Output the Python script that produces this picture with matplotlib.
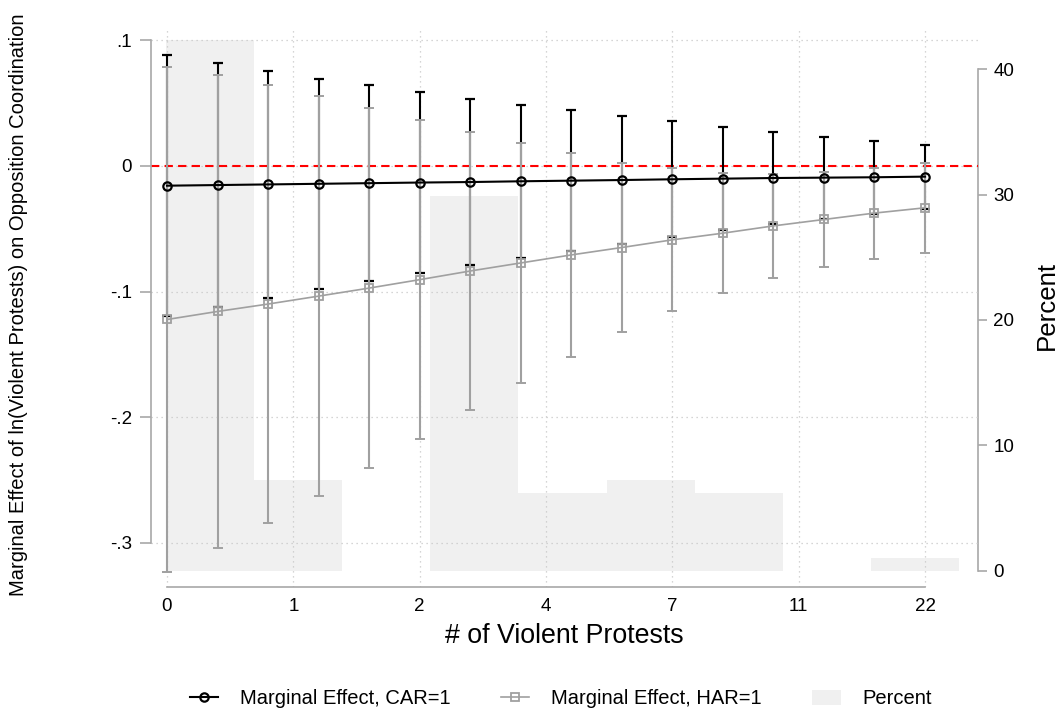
import matplotlib
matplotlib.use("Agg")
import matplotlib.pyplot as plt
from matplotlib.lines import Line2D
from matplotlib.patches import Patch

plt.rcParams["font.family"] = ["Liberation Sans", "DejaVu Sans"]

# x = ln(# violent protests + 1) grid used for the margins
x_pts = [0.0, 0.2, 0.4, 0.6, 0.8, 1.0, 1.2, 1.4, 1.6, 1.8, 2.0, 2.2, 2.4, 2.6, 2.8, 3.0]

car_est = [-0.0157, -0.0152, -0.0147, -0.0142, -0.0137, -0.0132, -0.0128, -0.0122,
           -0.0117, -0.0112, -0.0106, -0.0101, -0.0096, -0.0093, -0.0090, -0.0085]
car_hi = [0.0881, 0.0817, 0.0756, 0.0695, 0.0641, 0.0588, 0.0535, 0.0487,
          0.0442, 0.0394, 0.0354, 0.0311, 0.0271, 0.0234, 0.0202, 0.0170]
car_lo = [-0.1195, -0.1121, -0.1050, -0.0979, -0.0915, -0.0852, -0.0791, -0.0731,
          -0.0676, -0.0618, -0.0566, -0.0513, -0.0463, -0.0420, -0.0382, -0.0340]

har_est = [-0.1222, -0.1158, -0.1099, -0.1036, -0.0972, -0.0905, -0.0836, -0.0772,
           -0.0708, -0.0649, -0.0588, -0.0535, -0.0477, -0.0426, -0.0375, -0.0333]
har_hi = [0.0790, 0.0727, 0.0644, 0.0556, 0.0461, 0.0367, 0.0271, 0.0183,
          0.0101, 0.0027, -0.0018, -0.0058, -0.0062, -0.0048, -0.0013, 0.0026]
har_lo = [-0.3234, -0.3043, -0.2842, -0.2628, -0.2405, -0.2177, -0.1943, -0.1727,
          -0.1517, -0.1325, -0.1158, -0.1012, -0.0892, -0.0804, -0.0737, -0.0692]

# histogram of ln(violent protests + 1), in percent
hist_left = [-0.005, 0.344, 0.693, 1.042, 1.391, 1.740, 2.089, 2.438, 2.787]
hist_width = 0.349
hist_pct = [42.3, 7.2, 0.0, 29.9, 6.2, 7.2, 6.2, 0.0, 1.0]

x_ticks = [0, 0.5, 1, 1.5, 2, 2.5, 3]
x_ticklabels = ["0", "1", "2", "4", "7", "11", "22"]
y_ticks = [0.1, 0, -0.1, -0.2, -0.3]
y_ticklabels = [".1", "0", "-.1", "-.2", "-.3"]
pct_ticks = [0, 10, 20, 30, 40]

GRAY = "#a0a0a0"
AXGRAY = "#a8a8a8"
BARGRAY = "#f0f0f0"

fig = plt.figure(figsize=(10.64, 7.11), dpi=100)
ax = fig.add_axes([151 / 1064, (711 - 587) / 711, (978 - 151) / 1064, (587 - 28) / 711])
axp = ax.twinx()
ax.set_zorder(axp.get_zorder() + 1)
ax.patch.set_visible(False)

# percent bars (background)
axp.bar(hist_left, hist_pct, width=hist_width, align="edge", color=BARGRAY, lw=0)
axp.set_ylim(-1.30, 43.29)
axp.set_yticks(pct_ticks)
axp.tick_params(axis="y", length=6.5, width=1.2, color=AXGRAY, labelsize=13.5, pad=4.5)
for s in ["top", "left", "bottom"]:
    axp.spines[s].set_visible(False)
axp.spines["right"].set_bounds(0, 40)
axp.spines["right"].set_color(AXGRAY)
axp.spines["right"].set_linewidth(1.2)

# grid + zero line
ax.set_xlim(-0.0633, 3.2097)
ax.set_ylim(-0.3351, 0.1098)
ax.set_xticks(x_ticks)
ax.set_xticklabels(x_ticklabels)
ax.set_yticks(y_ticks)
ax.set_yticklabels(y_ticklabels)
ax.grid(True, ls=(0, (1, 3)), color="#c8c8c8", lw=0.9)
ax.axhline(0, color="red", lw=1.5, dashes=(4, 2.5), zorder=2.5)

# CIs
ax.errorbar(x_pts, car_est,
            yerr=[[e - l for e, l in zip(car_est, car_lo)], [h - e for e, h in zip(car_est, car_hi)]],
            fmt="none", ecolor="black", elinewidth=1.5, capsize=3.3, capthick=1.6, zorder=3)
ax.errorbar(x_pts, har_est,
            yerr=[[e - l for e, l in zip(har_est, har_lo)], [h - e for e, h in zip(har_est, har_hi)]],
            fmt="none", ecolor=GRAY, elinewidth=1.5, capsize=3.6, capthick=1.4, zorder=4)
# point estimates
ax.plot(x_pts, car_est, color="black", lw=1.5, marker="o", ms=6, mfc="none", mec="black", mew=1.6, zorder=5)
ax.plot(x_pts, har_est, color=GRAY, lw=1.2, marker="s", ms=6, mfc="none", mec=GRAY, mew=1.3, zorder=5)

ax.spines["top"].set_visible(False)
ax.spines["right"].set_visible(False)
ax.spines["left"].set_bounds(-0.3, 0.1)
ax.spines["bottom"].set_bounds(0, 3)
for s in ["left", "bottom"]:
    ax.spines[s].set_color(AXGRAY)
    ax.spines[s].set_linewidth(1.2)
ax.tick_params(axis="y", length=7.9, width=1.2, color=AXGRAY, labelsize=13.5, pad=5.8)
ax.tick_params(axis="x", length=0, labelsize=13.5, pad=8)

ax.set_xlabel("# of Violent Protests", fontsize=19.3, labelpad=6)
fig.text(19 / 1064, 1 - 305 / 711, "Marginal Effect of ln(Violent Protests) on Opposition Coordination",
         rotation=90, ha="center", va="center", fontsize=14.5)
fig.text(1047 / 1064, 1 - 305 / 711, "Percent", rotation=90, ha="center", va="center", fontsize=18.6)

handles = [Line2D([], [], color="black", lw=1.5, marker="o", ms=6, mfc="none", mew=1.6),
           Line2D([], [], color=GRAY, lw=1.2, marker="s", ms=6, mfc="none", mew=1.3),
           Patch(facecolor=BARGRAY, edgecolor="none")]
labels = ["Marginal Effect, CAR=1", "Marginal Effect, HAR=1", "Percent"]
fig.legend(handles, labels, loc="center", bbox_to_anchor=(561 / 1064, 1 - 699 / 711), ncol=3,
           frameon=False, fontsize=14.5, handlelength=1.4, handletextpad=1.1, columnspacing=2.5)

fig.savefig("out.png", dpi=100)
